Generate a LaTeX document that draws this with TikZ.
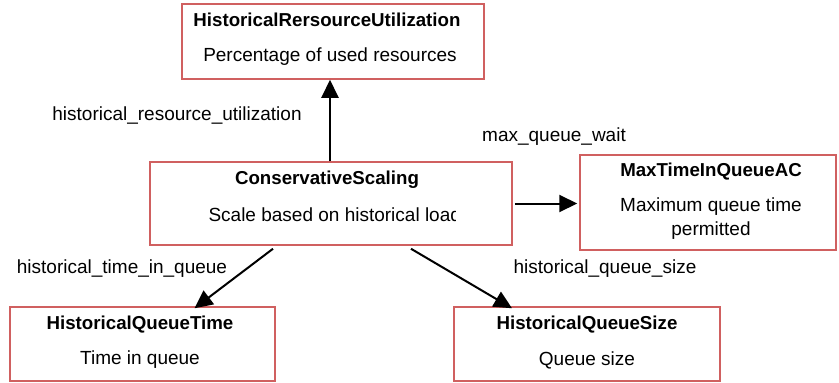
\documentclass[tikz,border=0pt]{standalone}
\usepackage{fontspec}
\setmainfont{Liberation Sans}
\usetikzlibrary{arrows.meta}
\definecolor{boxred}{RGB}{208,96,96}

\tikzset{
  box/.style={draw=boxred,line width=1.5pt,rectangle,inner sep=0pt},
  title/.style={font=\fontsize{18.7}{22}\selectfont\bfseries},
  desc/.style={font=\fontsize{19}{24}\selectfont,align=center},
  lbl/.style={font=\fontsize{19}{22}\selectfont},
  arr/.style={-{Triangle[length=18pt,width=17pt]},line width=2pt}
}

\begin{document}
\begin{tikzpicture}[x=1pt,y=-1pt]
\useasboundingbox (0,0) rectangle (839,383);

% boxes
\node[box,minimum width=302pt,minimum height=75pt] (hru) at (333,41.5) {};
\node[box,minimum width=362pt,minimum height=83pt] (cs) at (331,203.5) {};
\node[box,minimum width=256pt,minimum height=95pt] (mt) at (708,202.5) {};
\node[box,minimum width=265pt,minimum height=74pt] (hqt) at (142.5,344) {};
\node[box,minimum width=266pt,minimum height=74pt] (hqs) at (587,344) {};

% texts
\node[title] (hrut) at (327,20) {HistoricalRersourceUtilization};
\node[desc] (hrud) at (330,57) {Percentage of used resources};

\node[title] (cst) at (327,180) {ConservativeScaling};
\begin{scope}
\clip (200,195) rectangle (455,234);
\node[desc,anchor=west] (csd) at (205,215) {Scale based on historical load};
\end{scope}

\node[title] (mtt) at (711,172) {MaxTimeInQueueAC};
\node[desc] (mtd) at (711,219) {Maximum queue time\\permitted};

\node[title] (hqtt) at (140,325) {HistoricalQueueTime};
\node[desc] (hqtd) at (140,360) {Time in queue};

\node[title] (hqst) at (587,325) {HistoricalQueueSize};
\node[desc] (hqsd) at (587,360) {Queue size};

% connectors
\draw[arr] (cs.north -| 330,0) -- (hru.south -| 330,0);
\draw[arr] ([xshift=2pt]cs.east) -- ([xshift=-2pt,yshift=-1pt]mt.west);
\draw[arr] ([xshift=-58pt,yshift=-3pt]cs.south) -- ([xshift=52pt,yshift=-2pt]hqt.north);
\draw[arr] ([xshift=80pt,yshift=-3pt]cs.south) -- ([xshift=-75pt,yshift=-2pt]hqs.north);

% edge labels
\node[lbl] (l1) at (177,116) {historical\_resource\_utilization};
\node[lbl] (l2) at (554,137) {max\_queue\_wait};
\node[lbl] (l3) at (122,269) {historical\_time\_in\_queue};
\node[lbl] (l4) at (605,269) {historical\_queue\_size};
\end{tikzpicture}
\end{document}
